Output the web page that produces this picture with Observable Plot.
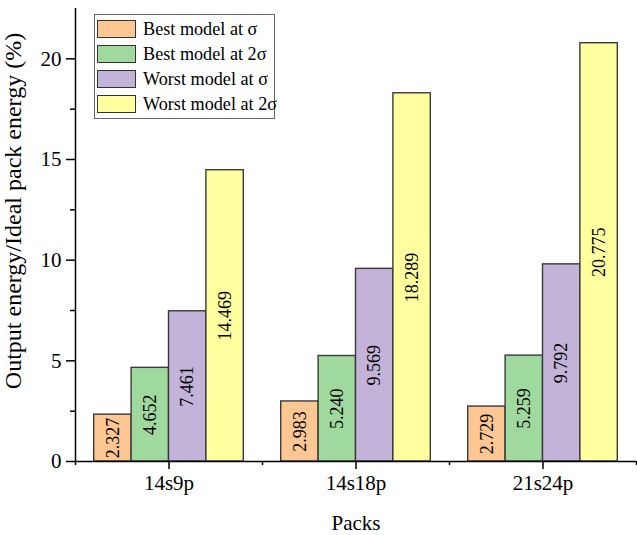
<!DOCTYPE html>
<html><head><meta charset="utf-8">
<script src="https://cdn.jsdelivr.net/npm/d3@7"></script>
<script src="https://cdn.jsdelivr.net/npm/@observablehq/plot@0.6"></script>
<style>
body{margin:0;background:#fff;}
#wrap{position:relative;width:637px;height:535px;}
#legend{position:absolute;left:94px;top:14px;width:181px;height:105px;border:1px solid #666;box-sizing:border-box;background:#fff;font-family:"Liberation Serif","Times New Roman",serif;font-size:18.2px;color:#000;}
.row{position:absolute;left:2px;height:18px;display:flex;align-items:center;white-space:nowrap;}
.sw{width:39px;height:18px;border:1px solid #333;box-sizing:border-box;margin-right:7px;flex:none;}
</style></head><body><div id="wrap"></div>
<script>
const packs = ["14s9p", "14s18p", "21s24p"];
const series = ["Best model at σ", "Best model at 2σ", "Worst model at σ", "Worst model at 2σ"];
const colors = ["#FDC794", "#A0D99E", "#C3B3D8", "#FFFFA0"];
const bestSigma = [2.327, 2.983, 2.729];
const best2Sigma = [4.652, 5.240, 5.259];
const worstSigma = [7.461, 9.569, 9.792];
const worst2Sigma = [14.469, 18.289, 20.775];
const yTicks = [0, 5, 10, 15, 20];
const yMinorTicks = [2.5, 7.5, 12.5, 17.5];
const valueLabels = [
  ["2.327", "2.983", "2.729"],
  ["4.652", "5.240", "5.259"],
  ["7.461", "9.569", "9.792"],
  ["14.469", "18.289", "20.775"]
];
const yLabel = "Output energy/Ideal pack energy (%)";
const xLabel = "Packs";

const values = [bestSigma, best2Sigma, worstSigma, worst2Sigma];
const groupWidth = 0.8;
const barW = groupWidth / series.length;
const rows = [];
packs.forEach((p, gi) => series.forEach((s, si) => rows.push({
  pack: p, series: s, value: values[si][gi], label: valueLabels[si][gi],
  x1: gi - groupWidth / 2 + si * barW, x2: gi - groupWidth / 2 + (si + 1) * barW
})));
const groupEdges = [-0.5, ...packs.map((p, i) => i + 0.5)];

const font = "'Liberation Serif', 'Times New Roman', serif";
const chart = Plot.plot({
  width: 637, height: 535,
  marginLeft: 75, marginRight: 1, marginTop: 8, marginBottom: 74,
  style: {fontFamily: font, fontSize: "21px", color: "#000", background: "#fff"},
  x: {domain: [-0.5, packs.length - 0.5]},
  y: {domain: [0, 22.5]},
  color: {domain: series, range: colors},
  marks: [
    Plot.rect(rows, {x1: "x1", x2: "x2", y1: 0, y2: "value", fill: "series", stroke: "#3a3a3a", strokeWidth: 1.4}),
    Plot.text(rows, {x: d => (d.x1 + d.x2) / 2, y: d => d.value / 2, text: "label", rotate: -90, fontSize: 18, fontFamily: font, fill: "#000"}),
    Plot.axisX({ticks: packs.map((p, i) => i), tickFormat: i => packs[i], tickSize: 8, tickPadding: 6, strokeWidth: 1.5,
      label: xLabel, labelAnchor: "center", labelOffset: 68, labelArrow: "none"}),
    Plot.axisX({ticks: groupEdges, tickFormat: null, text: null, tickSize: 4, strokeWidth: 1.5, label: null}),
    Plot.axisY({ticks: yTicks, tickSize: 9, tickPadding: 5, strokeWidth: 1.5, label: null}),
    Plot.axisY({ticks: yMinorTicks, text: null, tickSize: 5, strokeWidth: 1.5, label: null}),
    Plot.text([yLabel], {text: d => d, frameAnchor: "left", textAnchor: "middle", lineAnchor: "middle", rotate: -90, dx: -62, dy: -24, fontSize: 24, fontFamily: font, fill: "#000"}),
    Plot.ruleY([0], {strokeWidth: 1.5}),
    Plot.ruleX([-0.5], {strokeWidth: 1.5})
  ]
});
const wrap = document.getElementById("wrap");
wrap.appendChild(chart);

const legend = document.createElement("div");
legend.id = "legend";
series.forEach((s, i) => {
  const row = document.createElement("div");
  row.className = "row";
  row.style.top = (5 + i * 25) + "px";
  const sw = document.createElement("div");
  sw.className = "sw";
  sw.style.background = colors[i];
  const t = document.createElement("span");
  t.textContent = s;
  row.appendChild(sw); row.appendChild(t);
  legend.appendChild(row);
});
wrap.appendChild(legend);
</script></body></html>
